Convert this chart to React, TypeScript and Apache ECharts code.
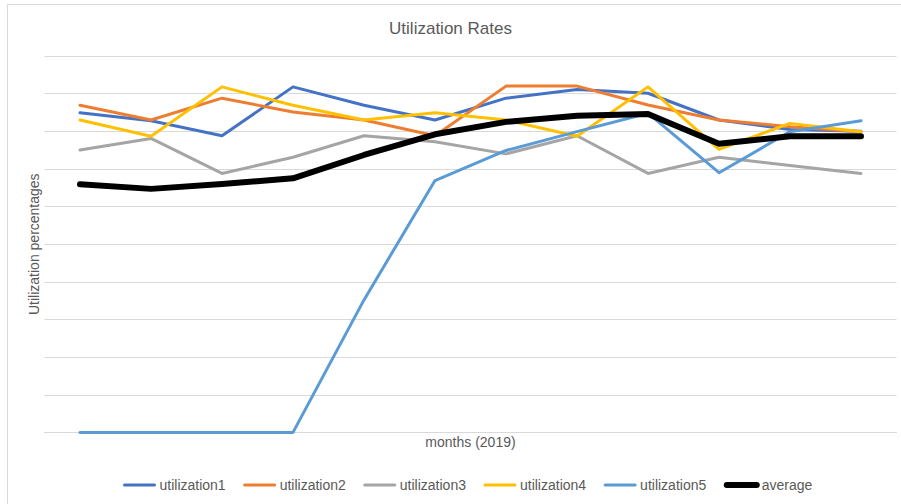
import React, { useEffect, useRef } from "react";
import * as echarts from "echarts";

const months = ["Jan", "Feb", "Mar", "Apr", "May", "Jun", "Jul", "Aug", "Sep", "Oct", "Nov", "Dec"];
const utilization1 = [84.9, 82.8, 78.8, 91.8, 86.9, 83.0, 88.8, 91.1, 90.1, 83.0, 80.5, 80.0];
const utilization2 = [86.9, 83.0, 88.8, 85.1, 83.0, 78.8, 92.0, 92.0, 87.0, 83.0, 81.2, 79.9];
const utilization3 = [75.0, 78.1, 68.8, 73.1, 78.8, 77.2, 74.0, 78.8, 68.8, 73.1, 70.9, 68.8];
const utilization4 = [83.0, 78.7, 91.8, 86.9, 83.0, 84.9, 83.0, 78.7, 91.8, 75.2, 82.1, 79.9];
const utilization5 = [0, 0, 0, 0, 35.2, 66.9, 74.9, 79.9, 84.8, 69.0, 79.9, 82.8];
const average = [65.9, 64.7, 66.0, 67.5, 73.7, 79.2, 82.5, 84.1, 84.6, 76.7, 78.7, 78.7];

const seriesNames = ["utilization1", "utilization2", "utilization3", "utilization4", "utilization5", "average"];
const seriesData = [utilization1, utilization2, utilization3, utilization4, utilization5, average];
const seriesColors = ["#4472C4", "#ED7D31", "#A5A5A5", "#FFC000", "#5B9BD5", "#000000"];
const seriesWidths = [3, 3, 3, 3, 3, 6];

const FONT = "Liberation Sans";
const TEXT = "#595959";

export default function App() {
  const ref = useRef<HTMLDivElement>(null);
  useEffect(() => {
    if (!ref.current) return;
    const chart = echarts.init(ref.current, undefined, { renderer: "svg" });
    chart.setOption({
      animation: false,
      backgroundColor: "#ffffff",
      title: {
        text: "Utilization Rates",
        left: "center",
        top: 15,
        textStyle: { fontFamily: FONT, fontSize: 17, fontWeight: "normal", color: TEXT },
      },
      graphic: [
        {
          type: "rect",
          shape: { x: 7.5, y: 4.5, width: 1000, height: 1000 },
          style: { fill: "none", stroke: "#d9d9d9", lineWidth: 1 },
          silent: true,
          z: -10,
        },
      ],
      legend: {
        left: 118,
        top: 473,
        itemWidth: 30,
        itemHeight: 14,
        itemGap: 17.5,
        data: seriesNames.map((name, i) => ({
          name,
          lineStyle: { color: seriesColors[i], width: seriesWidths[i], cap: "round" },
        })),
        itemStyle: { opacity: 0 },
        textStyle: { fontFamily: FONT, fontSize: 14, color: TEXT },
      },
      grid: { left: 44.5, right: 4.5, top: 56, bottom: 71.6 },
      xAxis: {
        type: "category",
        data: months,
        boundaryGap: true,
        name: "months (2019)",
        nameLocation: "middle",
        nameGap: 3,
        nameTextStyle: { fontFamily: FONT, fontSize: 14, color: TEXT },
        axisLine: { show: true, lineStyle: { color: "#d9d9d9", width: 1 } },
        axisTick: { show: false },
        axisLabel: { show: false },
        splitLine: { show: false },
      },
      yAxis: {
        type: "value",
        min: 0,
        max: 100,
        interval: 10,
        name: "Utilization percentages",
        nameLocation: "middle",
        nameGap: 4,
        nameTextStyle: { fontFamily: FONT, fontSize: 14, color: TEXT },
        axisLine: { show: false },
        axisTick: { show: false },
        axisLabel: { show: false },
        splitLine: { show: true, lineStyle: { color: "#d9d9d9", width: 1 } },
      },
      series: seriesNames.map((name, i) => ({
        name,
        type: "line",
        data: seriesData[i],
        symbol: "none",
        showSymbol: false,
        lineStyle: { color: seriesColors[i], width: seriesWidths[i], cap: "round", join: "round" },
        itemStyle: { color: seriesColors[i] },
        z: 2 + i,
      })),
    });
    return () => chart.dispose();
  }, []);
  return <div ref={ref} style={{ position: "fixed", left: 0, top: 0, width: 901, height: 504 }} />;
}
